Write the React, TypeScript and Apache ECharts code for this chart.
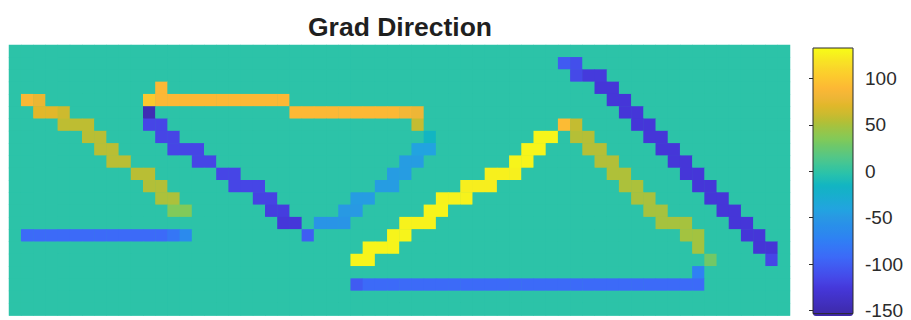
import React, { useEffect, useRef } from "react";
import * as echarts from "echarts";

// ---- data ----
const NUM_COLS = 64;
const NUM_ROWS = 22;
const VALUE_MIN = -153.4;
const VALUE_MAX = 133;
const colorbarTicks = [-150, -100, -50, 0, 50, 100];

// runs: [row, firstCol, lastCol, value]
const leftDiagonal = [
  [4, 1, 1, 88], [4, 2, 2, 78],
  [5, 2, 3, 72], [5, 4, 4, 63],
  [6, 4, 6, 58],
  [7, 6, 7, 56],
  [8, 7, 8, 56],
  [9, 8, 9, 56],
  [10, 10, 11, 56],
  [11, 11, 12, 54],
  [12, 12, 13, 52],
  [13, 13, 14, 35],
];
const leftBaseline = [
  [15, 1, 12, -90], [15, 13, 13, -80], [15, 14, 14, -62],
];
const middleShape = [
  [3, 12, 12, 90],
  [4, 11, 11, 102], [4, 12, 22, 90],
  [5, 11, 11, -145], [5, 23, 31, 90], [5, 32, 32, 85], [5, 33, 33, 80],
  [6, 11, 12, -115], [6, 33, 33, 60],
  [7, 12, 13, -115], [7, 34, 34, -14],
  [8, 13, 15, -115], [8, 33, 34, -40],
  [9, 15, 16, -115], [9, 32, 33, -45],
  [10, 17, 18, -115], [10, 31, 32, -45],
  [11, 18, 20, -115], [11, 30, 31, -45],
  [12, 20, 21, -117], [12, 28, 29, -45],
  [13, 21, 22, -120], [13, 27, 28, -47],
  [14, 22, 23, -124], [14, 25, 27, -52],
  [15, 24, 24, -98],
];
const triangleShape = [
  [17, 28, 29, 128],
  [16, 29, 31, 128],
  [15, 31, 32, 128],
  [14, 32, 34, 127],
  [13, 34, 35, 128],
  [12, 35, 37, 127],
  [11, 37, 39, 125],
  [10, 39, 41, 126],
  [9, 41, 42, 128],
  [8, 42, 43, 129],
  [7, 43, 44, 129],
  [6, 45, 45, 92], [6, 46, 46, 60],
  [7, 46, 47, 55],
  [8, 47, 48, 55],
  [9, 48, 49, 54],
  [10, 49, 50, 53],
  [11, 50, 51, 52],
  [12, 51, 52, 51],
  [13, 52, 53, 50],
  [14, 53, 55, 50],
  [15, 55, 56, 49],
  [16, 56, 56, 49],
  [17, 57, 57, 30],
  [18, 56, 56, -72],
  [19, 28, 28, -100], [19, 29, 56, -90],
];
const rightDiagonal = [
  [1, 45, 45, -100], [1, 46, 46, -108],
  [2, 46, 46, -112], [2, 47, 48, -122],
  [3, 48, 49, -125],
  [4, 49, 50, -125],
  [5, 50, 51, -125],
  [6, 51, 52, -125],
  [7, 52, 53, -125],
  [8, 53, 54, -125],
  [9, 54, 55, -125],
  [10, 55, 56, -125],
  [11, 56, 57, -125],
  [12, 57, 58, -125],
  [13, 58, 59, -125],
  [14, 59, 60, -125],
  [15, 60, 61, -125],
  [16, 61, 62, -126],
  [17, 62, 62, -115],
];

// ---- colormap (parula-like), anchors value -> colour ----
const colorAnchors: [number, string][] = [
  [-153.4, "#3E26A8"],
  [-145, "#3F2DB4"],
  [-125, "#4536D8"],
  [-115, "#4645E6"],
  [-100, "#405BF2"],
  [-90, "#3C6AF8"],
  [-72, "#2F80F4"],
  [-60, "#2A8CEB"],
  [-47, "#2899E3"],
  [-40, "#22A3E0"],
  [-14, "#12B5C2"],
  [0, "#2CC3A8"],
  [15, "#50C78A"],
  [30, "#72C866"],
  [35, "#80CA5A"],
  [50, "#A6C23E"],
  [56, "#B9BE34"],
  [63, "#CDBA2E"],
  [72, "#E2B72A"],
  [80, "#EEB636"],
  [90, "#FCB835"],
  [102, "#FCC82E"],
  [115, "#F9DC28"],
  [128, "#F7F41B"],
  [133, "#F9FB15"],
];

function hexToRgb(h: string) {
  const n = parseInt(h.slice(1), 16);
  return [(n >> 16) & 255, (n >> 8) & 255, n & 255];
}
function colorAt(v: number) {
  for (let i = 0; i < colorAnchors.length - 1; i++) {
    const [v0, c0] = colorAnchors[i];
    const [v1, c1] = colorAnchors[i + 1];
    if (v >= v0 && v <= v1) {
      const t = (v - v0) / (v1 - v0);
      const a = hexToRgb(c0);
      const b = hexToRgb(c1);
      const r = a.map((x, k) => Math.round(x + (b[k] - x) * t));
      return `rgb(${r[0]},${r[1]},${r[2]})`;
    }
  }
  return colorAnchors[colorAnchors.length - 1][1];
}
const STEPS = 287;
const colormap = Array.from({ length: STEPS }, (_, i) =>
  colorAt(VALUE_MIN + ((VALUE_MAX - VALUE_MIN) * i) / (STEPS - 1))
);

function buildData() {
  const m: number[][] = Array.from({ length: NUM_ROWS }, () => new Array(NUM_COLS).fill(0));
  [leftDiagonal, leftBaseline, middleShape, triangleShape, rightDiagonal].forEach((runs) =>
    runs.forEach(([r, c0, c1, v]) => {
      for (let c = c0; c <= c1; c++) m[r][c] = v;
    })
  );
  const out: number[][] = [];
  for (let r = 0; r < NUM_ROWS; r++) for (let c = 0; c < NUM_COLS; c++) out.push([c, r, m[r][c]]);
  return out;
}

const FONT = "'Liberation Sans', Arial, Helvetica, sans-serif";

export default function App() {
  const ref = useRef<HTMLDivElement>(null);
  useEffect(() => {
    if (!ref.current) return;
    const chart = echarts.init(ref.current, undefined, { renderer: "svg" });
    const cols = Array.from({ length: NUM_COLS }, (_, i) => String(i));
    const rows = Array.from({ length: NUM_ROWS }, (_, i) => String(i));
    chart.setOption({
      animation: false,
      backgroundColor: "#ffffff",
      title: {
        text: "Grad Direction",
        left: 395,
        top: 8,
        textAlign: "center",
        textStyle: { fontSize: 26.5, fontWeight: "bold", color: "#1f1f1f", fontFamily: FONT },
      },
      grid: [
        { left: 9, top: 45, width: 781, height: 270.5, show: true, backgroundColor: "#2CC3A8", borderWidth: 0 },
        { left: 813, top: 48, width: 40, height: 268, show: true, backgroundColor: "transparent", borderColor: "#2b2b2b", borderWidth: 1, z: 10 },
      ],
      xAxis: [
        { type: "category", data: cols, gridIndex: 0, show: false },
        { type: "value", gridIndex: 1, show: false, min: 0, max: 1 },
      ],
      yAxis: [
        { type: "category", data: rows, gridIndex: 0, show: false, inverse: true },
        {
          type: "value",
          gridIndex: 1,
          position: "right",
          min: VALUE_MIN,
          max: VALUE_MAX,
          z: 10,
          axisLine: { show: false },
          splitLine: { show: false },
          axisTick: { show: true, inside: true, length: 4, customValues: colorbarTicks, lineStyle: { color: "#2b2b2b" } },
          axisLabel: { customValues: colorbarTicks, fontSize: 19, color: "#2b2b2b", margin: 12, fontFamily: FONT },
        },
      ],
      visualMap: {
        type: "continuous",
        min: VALUE_MIN,
        max: VALUE_MAX,
        seriesIndex: 0,
        dimension: 2,
        inRange: { color: colormap },
        left: 813,
        top: 48,
        itemWidth: 40,
        itemHeight: 268,
        padding: 0,
        calculable: false,
        hoverLink: false,
        realtime: false,
        show: true,
      },
      series: [
        {
          type: "heatmap",
          xAxisIndex: 0,
          yAxisIndex: 0,
          data: buildData(),
          itemStyle: { borderWidth: 0 },
          emphasis: { disabled: true },
          progressive: 0,
        },
      ],
    });
    return () => chart.dispose();
  }, []);
  return <div ref={ref} style={{ position: "fixed", left: 0, top: 0, width: 911, height: 320 }} />;
}
